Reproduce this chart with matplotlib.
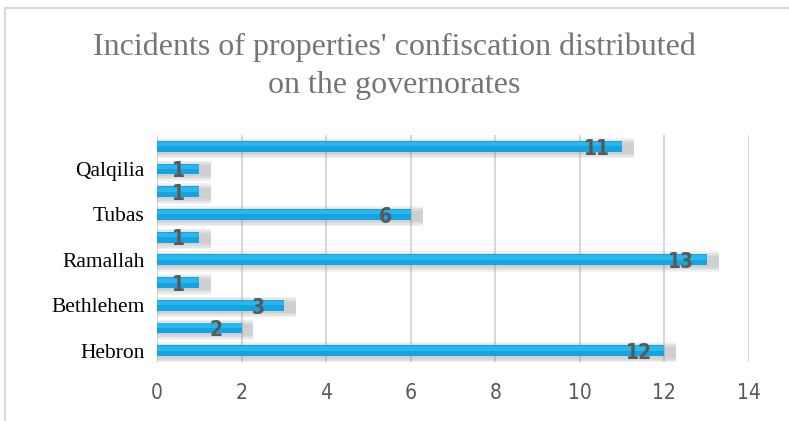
import matplotlib.pyplot as plt
from matplotlib.patches import Rectangle

# governorates, bottom to top (only every other name is shown on the axis)
governorates = ["Hebron", "Jerusalem", "Bethlehem", "Jericho", "Ramallah",
                "Salfit", "Tubas", "Nablus", "Qalqilia", "Jenin"]
incidents = [12, 2, 3, 1, 13, 1, 6, 1, 1, 11]
shown = ["Hebron", "Bethlehem", "Ramallah", "Tubas", "Qalqilia"]
xticks = [0, 2, 4, 6, 8, 10, 12, 14]

fig = plt.figure(figsize=(7.89, 4.21), dpi=100)
# outer chart frame (only top and left edges visible)
fig.patches.append(Rectangle((5 / 789, -0.1), 1.2, 1.1 - 8 / 421, transform=fig.transFigure,
                             fill=False, edgecolor='#D9D9D9', linewidth=1.5))

ax = fig.add_axes([157 / 789, 1 - 362 / 421, 592 / 789, 227 / 421])
pos = list(range(len(governorates)))

# soft shadow under each bar
for k in range(4):
    ax.barh([p - 0.08 for p in pos], [v + 0.28 for v in incidents], height=0.48 + 0.14 * k,
            color='#7a7a7a', alpha=0.1, linewidth=0, zorder=2)
ax.barh(pos, incidents, height=0.48, color='#14A4E2', linewidth=0, zorder=3)
ax.barh([p + 0.1 for p in pos], incidents, height=0.2, color='#2BB6EE', linewidth=0, zorder=3)

for p, v in zip(pos, incidents):
    ax.text(max(v - 0.6, 0.5), p - 0.1, str(v), ha='center', va='center',
            fontsize=15, fontweight='bold', color='#595959', zorder=4,
            family='DejaVu Sans', stretch='condensed')

ax.set_xlim(0, 14)
ax.set_ylim(-0.5, 9.5)
ax.set_xticks(xticks)
ax.set_xticklabels([str(t) for t in xticks], fontsize=15, color='#595959',
                   family='DejaVu Sans', stretch='condensed')
ax.tick_params(axis='x', length=0, pad=15)
ax.set_yticks(pos)
ax.set_yticklabels([g if g in shown else '' for g in governorates], fontsize=15.5,
                   color='black', family=['Liberation Serif', 'DejaVu Serif'])
ax.tick_params(axis='y', length=0, pad=9)
ax.grid(axis='x', color='#D9D9D9', linewidth=1.5, zorder=0)
ax.set_axisbelow(True)
for s in ax.spines.values():
    s.set_visible(False)

fig.text(0.5, 1 - 47 / 421, "Incidents of properties' confiscation distributed",
         ha='center', va='center', fontsize=23, color='#757575',
         family=['Liberation Serif', 'DejaVu Serif'])
fig.text(0.5, 1 - 86 / 421, "on the governorates",
         ha='center', va='center', fontsize=23, color='#757575',
         family=['Liberation Serif', 'DejaVu Serif'])

fig.savefig('out.png', dpi=100)
